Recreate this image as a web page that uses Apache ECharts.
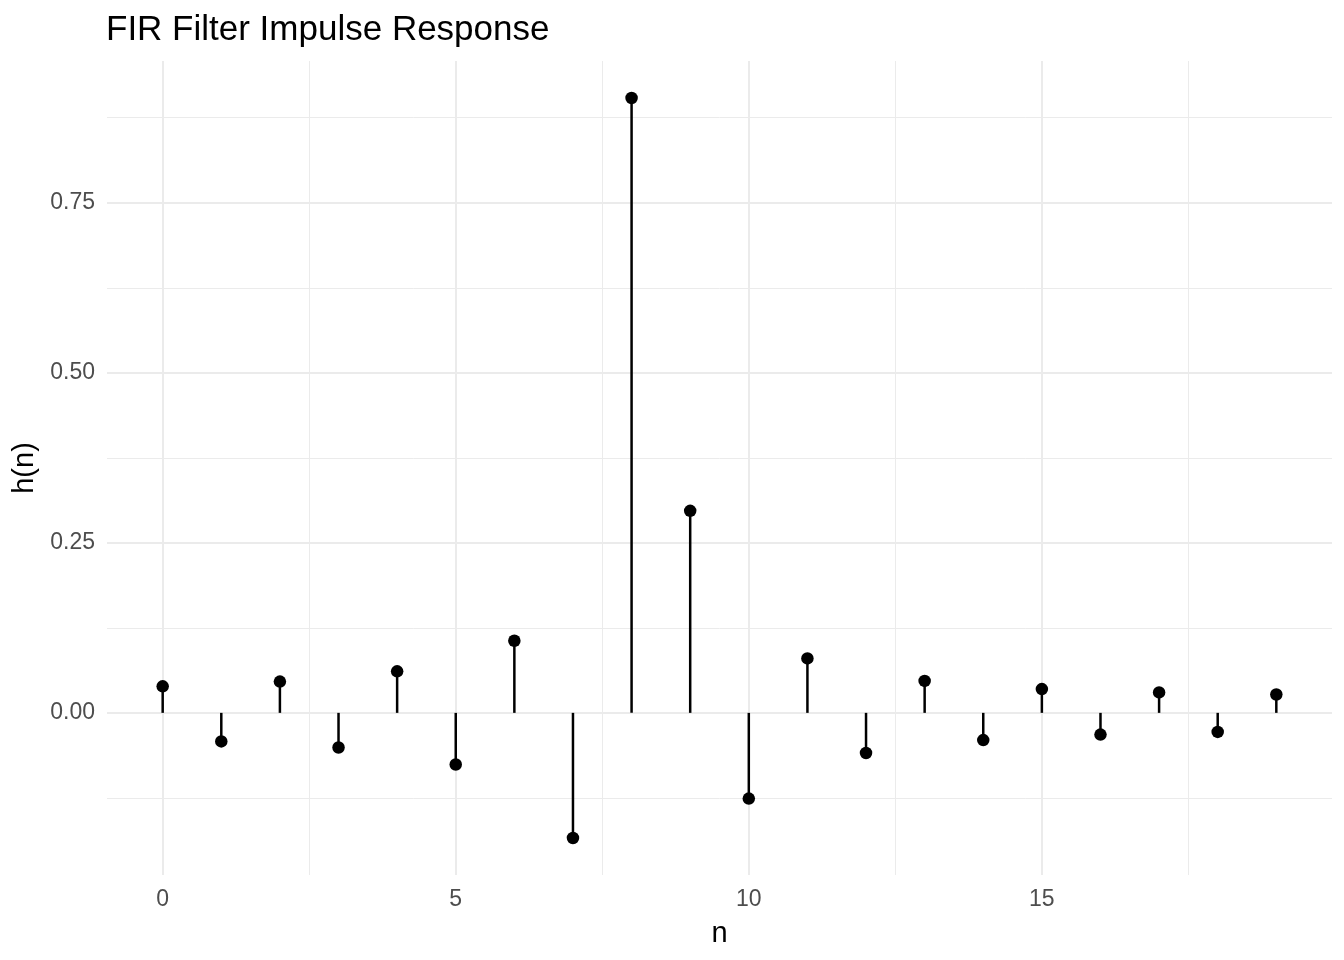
<!DOCTYPE html>
<html><head><meta charset="utf-8">
<script src="https://cdn.jsdelivr.net/npm/echarts@6/dist/echarts.min.js"></script>
<style>html,body{margin:0;padding:0;background:#fff}#c{width:1344px;height:960px}</style>
</head><body><div id="c"></div>
<script>
const titleText = 'FIR Filter Impulse Response';
const xName = 'n';
const yName = 'h(n)';
const nValues = [0,1,2,3,4,5,6,7,8,9,10,11,12,13,14,15,16,17,18,19];
const hValues = [0.039,-0.042,0.046,-0.051,0.061,-0.076,0.106,-0.184,0.904,0.297,-0.126,0.080,-0.059,0.047,-0.040,0.035,-0.032,0.030,-0.028,0.027];
const xMajor = [0,5,10,15];
const xMinor = [2.5,7.5,12.5,17.5];
const yMajor = [0,0.25,0.5,0.75];
const yMinor = [-0.125,0.125,0.375,0.625,0.875];

const xLo = Math.min(...nValues), xHi = Math.max(...nValues);
const yLo = Math.min(...hValues), yHi = Math.max(...hValues);
const xPad = (xHi - xLo) * 0.05, yPad = (yHi - yLo) * 0.05;
const xMin = xLo - xPad, xMax = xHi + xPad, yMin = yLo - yPad, yMax = yHi + yPad;

const font = 'Liberation Sans, Arial, Helvetica, sans-serif';
const gridColor = '#EBEBEB';
const pts = nValues.map((n,i)=>[n,hValues[i]]);

const chart = echarts.init(document.getElementById('c'));
chart.setOption({
  animation:false,
  backgroundColor:'#fff',
  title:{text:titleText,left:106,top:13,padding:0,textStyle:{fontFamily:font,fontSize:35,fontWeight:'normal',color:'#000'}},
  grid:{left:107,right:12,top:61,bottom:85,containLabel:false},
  xAxis:[
    {type:'value',min:xMin,max:xMax,name:xName,nameLocation:'middle',nameGap:44,
     nameTextStyle:{fontFamily:font,fontSize:29,color:'#000'},
     axisLine:{show:false},axisTick:{show:false,customValues:xMajor},
     axisLabel:{customValues:xMajor,fontFamily:font,fontSize:23,color:'#4D4D4D',margin:13,formatter:v=>String(v)},
     splitLine:{show:true,lineStyle:{color:gridColor,width:2}}},
    {type:'value',min:xMin,max:xMax,position:'bottom',
     axisLine:{show:false},axisTick:{show:false,customValues:xMinor},
     axisLabel:{show:false,customValues:xMinor},
     splitLine:{show:true,lineStyle:{color:gridColor,width:1}}}
  ],
  yAxis:[
    {type:'value',min:yMin,max:yMax,name:yName,nameLocation:'middle',nameGap:59,nameRotate:90,
     nameTextStyle:{fontFamily:font,fontSize:29,color:'#000'},
     axisLine:{show:false},axisTick:{show:false,customValues:yMajor},
     axisLabel:{customValues:yMajor,fontFamily:font,fontSize:23,color:'#4D4D4D',margin:12,padding:[4,0,0,0],formatter:v=>v.toFixed(2)},
     splitLine:{show:true,lineStyle:{color:gridColor,width:2}}},
    {type:'value',min:yMin,max:yMax,position:'left',
     axisLine:{show:false},axisTick:{show:false,customValues:yMinor},
     axisLabel:{show:false,customValues:yMinor},
     splitLine:{show:true,lineStyle:{color:gridColor,width:1}}}
  ],
  series:[
    {type:'bar',data:pts,barWidth:2.5,itemStyle:{color:'#000'},xAxisIndex:0,yAxisIndex:0,z:3,silent:true},
    {type:'scatter',data:pts,symbol:'circle',symbolSize:12.5,itemStyle:{color:'#000',opacity:1},xAxisIndex:0,yAxisIndex:0,z:4,silent:true}
  ]
});
</script></body></html>
